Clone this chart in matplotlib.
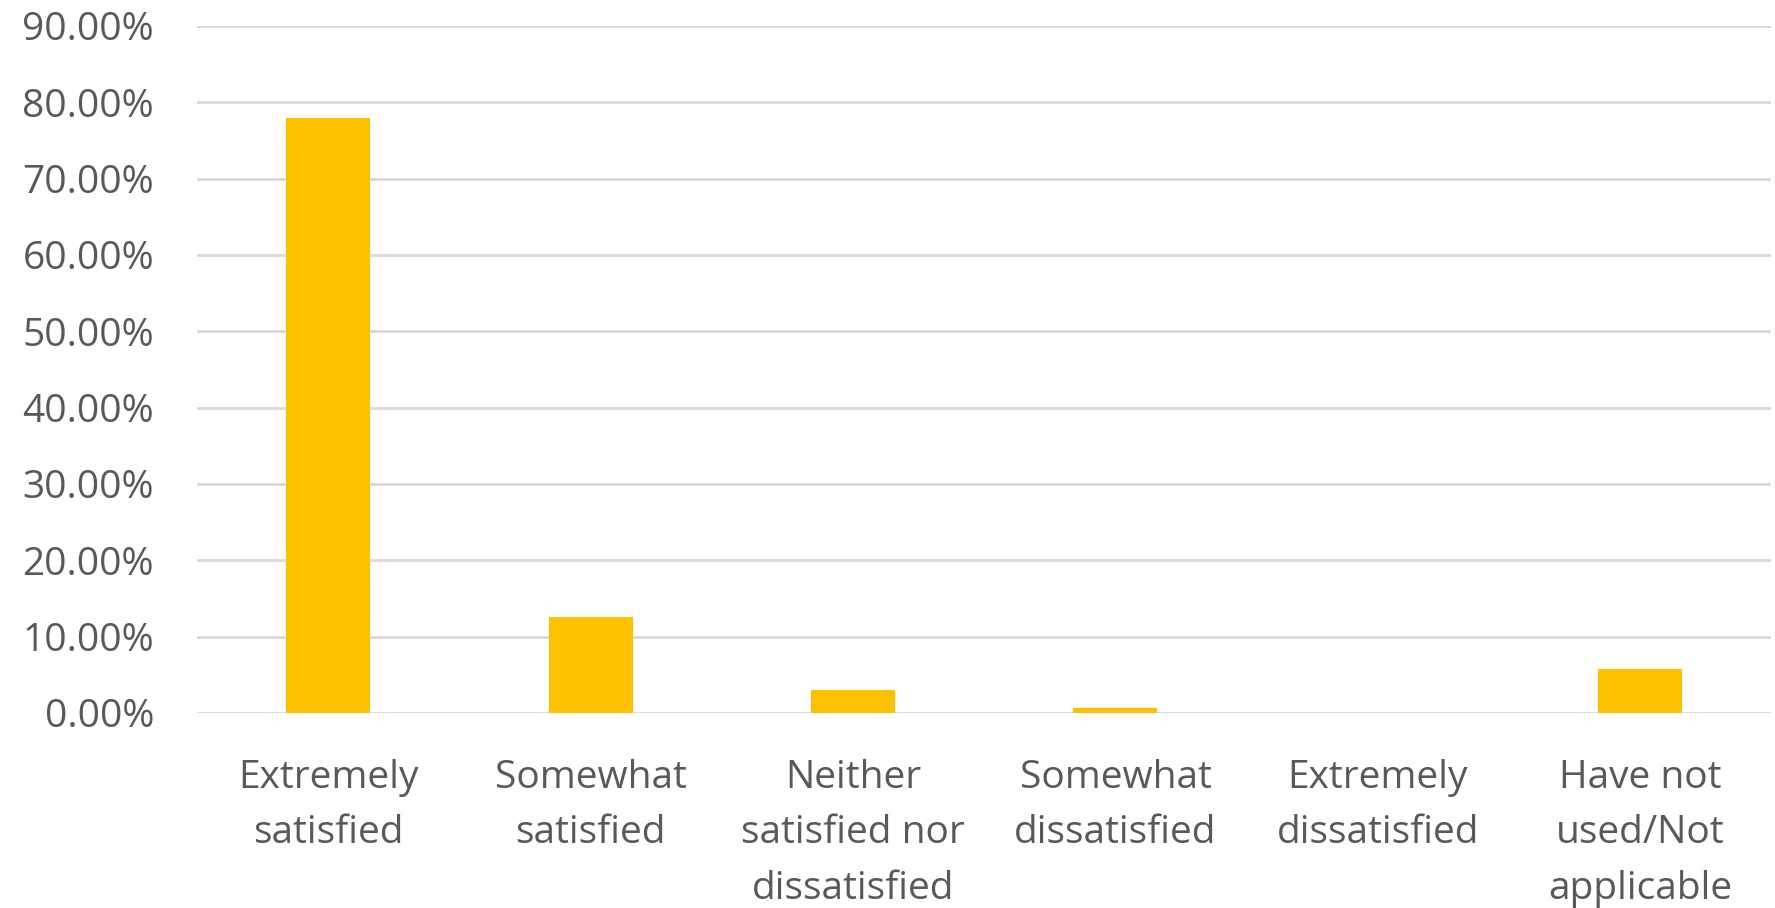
import matplotlib
matplotlib.use("Agg")
import matplotlib.pyplot as plt
from matplotlib.ticker import FuncFormatter, MultipleLocator

categories = ["Extremely\nsatisfied", "Somewhat\nsatisfied", "Neither\nsatisfied nor\ndissatisfied",
              "Somewhat\ndissatisfied", "Extremely\ndissatisfied", "Have not\nused/Not\napplicable"]
values = [78.0, 12.6, 3.0, 0.6, 0.0, 5.8]

plt.rcParams['font.family'] = ['Open Sans', 'DejaVu Sans']

fig = plt.figure(figsize=(17.75, 9.08), dpi=100)
ax = fig.add_axes([0.111, 0.2148, 0.887, 0.7566])

x = list(range(len(categories)))
ax.bar(x, values, width=0.32, color='#FFC000', zorder=3)

ax.set_xlim(-0.5, len(categories) - 0.5)
ax.set_ylim(0, 90)
ax.yaxis.set_major_locator(MultipleLocator(10))
ax.yaxis.set_major_formatter(FuncFormatter(lambda v, p: f"{v:.2f}%"))
ax.grid(axis='y', color='#D9D9D9', linewidth=2.0, zorder=0)
ax.set_axisbelow(True)
for s in ['top', 'right', 'left', 'bottom']:
    ax.spines[s].set_visible(False)

ax.set_xticks(x)
ax.set_xticklabels(categories, linespacing=1.6)
ax.tick_params(axis='both', length=0, labelsize=28, labelcolor='#595959')
ax.tick_params(axis='y', pad=31)
ax.tick_params(axis='x', pad=33)

fig.savefig("out.png", dpi=100)
